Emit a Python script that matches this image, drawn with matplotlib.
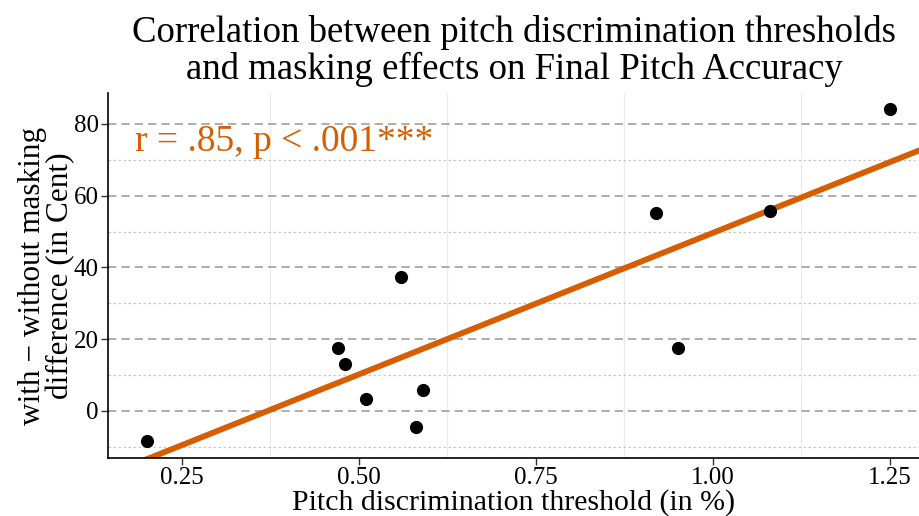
import numpy as np
import matplotlib
matplotlib.use("Agg")
import matplotlib.pyplot as plt
from matplotlib.ticker import MultipleLocator

# Pitch discrimination threshold (%) and masking difference (Cent)
threshold = [0.20, 0.47, 0.48, 0.51, 0.56, 0.58, 0.59, 0.92, 0.95, 1.08, 1.25]
masking_diff = [-8.4, 17.6, 13.1, 3.3, 37.4, -4.5, 5.9, 55.2, 17.6, 55.7, 84.2]

x_ticks = [0.25, 0.50, 0.75, 1.00, 1.25]
y_ticks = [0, 20, 40, 60, 80]
annotation = "r = .85, p < .001***"
orange = "#D55E00"

plt.rcParams["font.family"] = ["Liberation Serif", "DejaVu Serif"]

fig = plt.figure(figsize=(9.2, 5.16), dpi=100)
ax = fig.add_axes([108 / 920, 1 - 458 / 516, (920 - 108) / 920, (458 - 93) / 516])

xlim = (0.1455, 1.2924)
ylim = (-13.1, 88.6)
ax.set_xlim(*xlim)
ax.set_ylim(*ylim)

# grid: minor vertical lines, dashed major / dotted minor horizontal lines
ax.xaxis.set_minor_locator(MultipleLocator(0.125))
ax.yaxis.set_minor_locator(MultipleLocator(10))
ax.grid(axis="x", which="minor", color="#ebebeb", linewidth=0.8, linestyle="-")
ax.grid(axis="x", which="major", visible=False)
ax.grid(axis="y", which="major", color="#a0a0a0", linewidth=1.2, linestyle=(0, (5, 3)))
ax.grid(axis="y", which="minor", color="#c8c8c8", linewidth=0.9, linestyle=(0, (2, 2)))
ax.set_axisbelow(True)

# regression line across the full x range
slope, intercept = np.polyfit(threshold, masking_diff, 1)
xs = np.array(xlim)
ax.plot(xs, intercept + slope * xs, color=orange, linewidth=4.2, solid_capstyle="butt", zorder=2)

ax.scatter(threshold, masking_diff, s=90, color="black", zorder=3, linewidths=0)

ax.set_xticks(x_ticks)
ax.set_xticklabels([f"{v:.2f}" for v in x_ticks])
ax.set_yticks(y_ticks)
ax.tick_params(axis="both", which="major", labelsize=18, direction="out", length=5,
               width=1, color="#333333", labelcolor="black", pad=1.5)
ax.tick_params(axis="both", which="minor", length=0)

for side in ("top", "right"):
    ax.spines[side].set_visible(False)
for side in ("left", "bottom"):
    ax.spines[side].set_color("black")
    ax.spines[side].set_linewidth(1.2)

ax.text(0.183, 75, annotation, color=orange, fontsize=27, ha="left", va="center")

ax.set_xlabel("Pitch discrimination threshold (in %)", fontsize=21.5, labelpad=0)
ax.set_ylabel("with \u2212 without masking\ndifference (in Cent)", fontsize=22.5, labelpad=-1,
              linespacing=0.95)
fig.suptitle("Correlation between pitch discrimination thresholds\nand masking effects on Final Pitch Accuracy",
             fontsize=26.5, x=(108 + 920) / 2 / 920, y=0.97, va="top", linespacing=1.05)

fig.savefig("out.png", dpi=100)
